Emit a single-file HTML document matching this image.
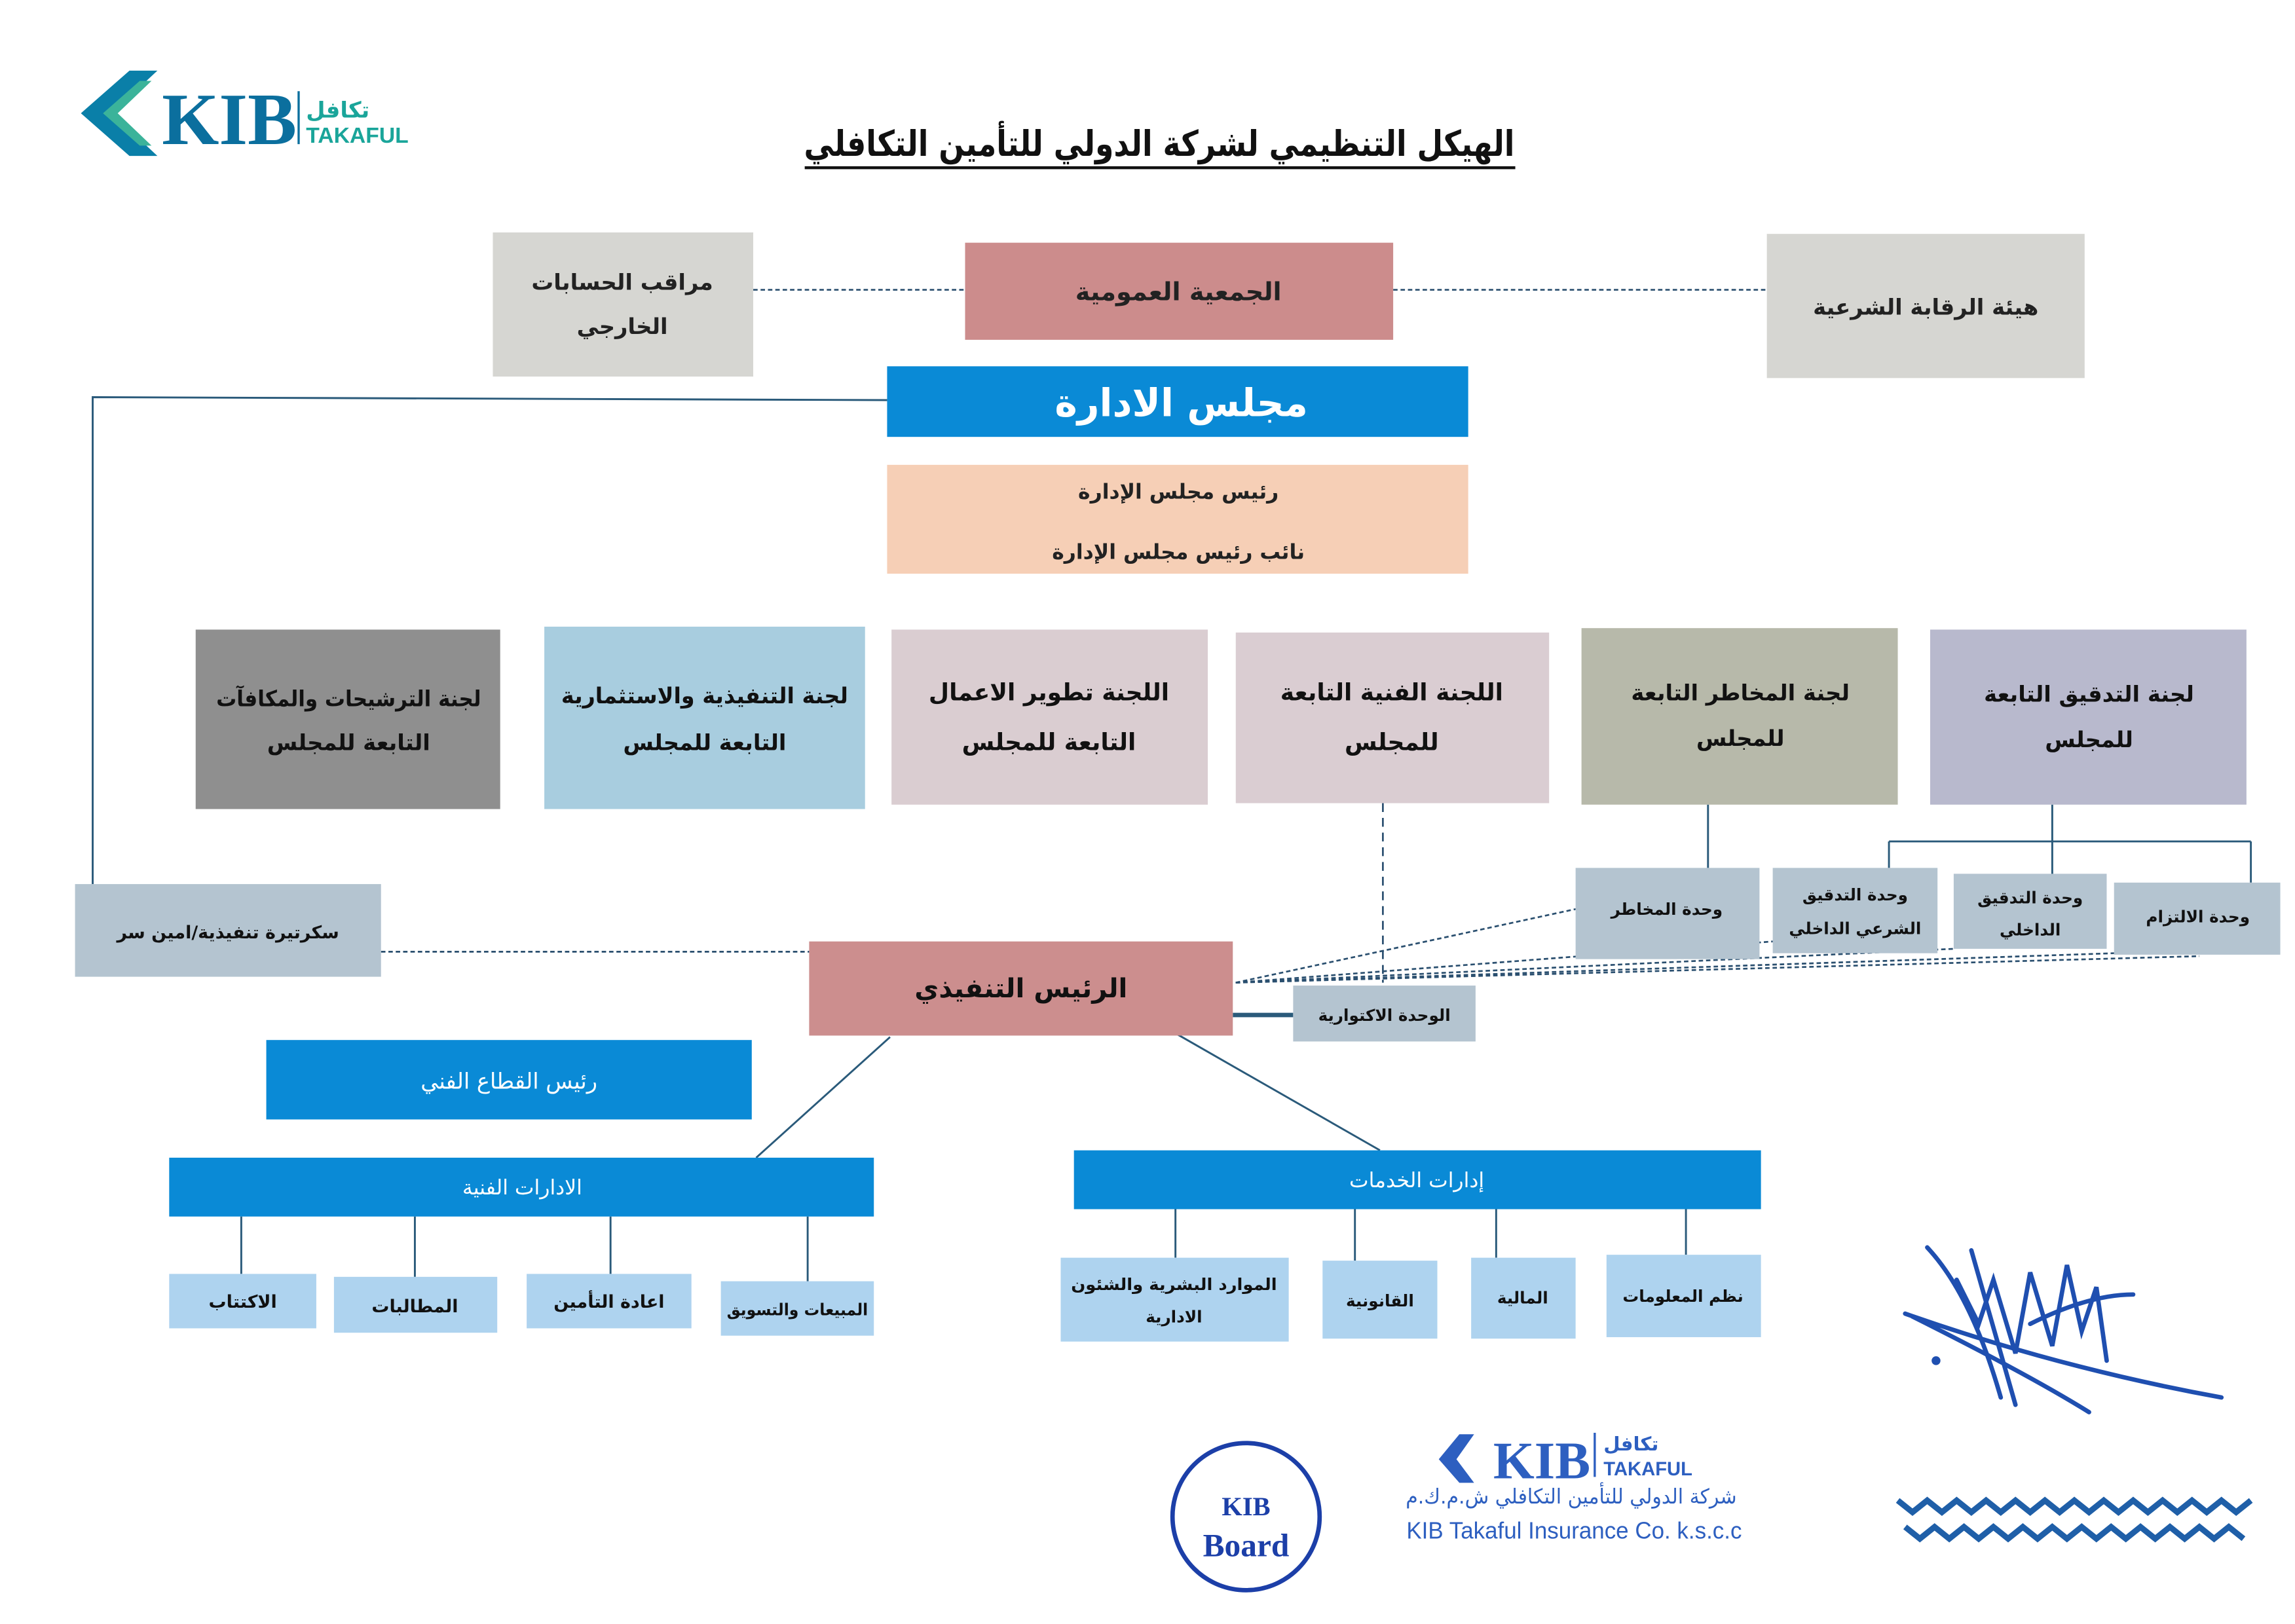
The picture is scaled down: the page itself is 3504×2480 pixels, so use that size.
<!DOCTYPE html>
<html><head><meta charset="utf-8"><style>
html,body{margin:0;padding:0;background:#fff;}
svg{display:block;}
text{font-family:"DejaVu Sans","Liberation Sans",sans-serif;font-weight:bold;}
</style></head><body>
<svg width="3504" height="2480" viewBox="0 0 1560 1104" preserveAspectRatio="none" xmlns="http://www.w3.org/2000/svg">
<rect width="1560" height="1104" fill="#fff"/>
<polygon points="55,77 88,48 107,48 76,77 107,106 88,106" fill="#0a7fa8"/>
<polygon points="70,77 95,55 103,55 80,77 103,99 95,99" fill="#3bb39a"/>
<text x="110" y="98" font-size="50" fill="#0b6f9e" style="font-family:'Liberation Serif',serif">KIB</text>
<line x1="203" y1="62" x2="203" y2="98" stroke="#0b6f9e" stroke-width="1.5"/>
<text x="208" y="80" font-size="15" fill="#1aa59a">تكافل</text>
<text x="208" y="97" font-size="15" fill="#1aa59a" style="font-family:'Liberation Sans',sans-serif">TAKAFUL</text>
<text x="788" y="106" font-size="24" text-anchor="middle" fill="#111" textLength="483" lengthAdjust="spacingAndGlyphs">الهيكل التنظيمي لشركة الدولي للتأمين التكافلي</text>
<line x1="547" y1="114" x2="1030" y2="114" stroke="#111" stroke-width="2"/>
<g stroke="#2a4f6f" stroke-width="1.2" stroke-dasharray="3,2" fill="none">
<line x1="512" y1="197" x2="656" y2="197"/><line x1="947" y1="197" x2="1201" y2="197"/>
<line x1="259" y1="647" x2="550" y2="647"/>
<line x1="940" y1="546" x2="940" y2="668" stroke-dasharray="6,4"/>
<line x1="840" y1="668" x2="1071" y2="618"/>
<line x1="840" y1="668" x2="1205" y2="640"/>
<line x1="840" y1="668" x2="1328" y2="645"/>
<line x1="840" y1="668" x2="1437" y2="648"/>
<line x1="840" y1="668" x2="1495" y2="650"/>
</g>
<g stroke="#2a5a7a" stroke-width="1.3" fill="none">
<polyline points="603,272 63,270 63,601"/>
<line x1="1161" y1="547" x2="1161" y2="590"/>
<line x1="1395" y1="547" x2="1395" y2="600"/>
<line x1="1284" y1="572" x2="1530" y2="572"/>
<line x1="1284" y1="572" x2="1284" y2="590"/><line x1="1530" y1="572" x2="1530" y2="600"/>
<line x1="838" y1="690" x2="879" y2="690" stroke-width="3"/>
<line x1="605" y1="705" x2="514" y2="787"/>
<line x1="800" y1="703" x2="938" y2="782"/>
<line x1="164" y1="827" x2="164" y2="866"/><line x1="282" y1="827" x2="282" y2="868"/>
<line x1="415" y1="827" x2="415" y2="866"/><line x1="549" y1="827" x2="549" y2="871"/>
<line x1="799" y1="822" x2="799" y2="855"/><line x1="921" y1="822" x2="921" y2="857"/>
<line x1="1017" y1="822" x2="1017" y2="855"/><line x1="1146" y1="822" x2="1146" y2="853"/>
</g>
<rect x="335" y="158" width="177" height="98" fill="#d6d6d2"/>
<text x="423" y="197" font-size="15" text-anchor="middle" fill="#222">مراقب الحسابات</text>
<text x="423" y="227" font-size="15" text-anchor="middle" fill="#222">الخارجي</text>
<rect x="656" y="165" width="291" height="66" fill="#cc8c8c"/>
<text x="801" y="204" font-size="17" text-anchor="middle" fill="#222">الجمعية العمومية</text>
<rect x="1201" y="159" width="216" height="98" fill="#d6d6d2"/>
<text x="1309" y="214" font-size="15" text-anchor="middle" fill="#222">هيئة الرقابة الشرعية</text>
<rect x="603" y="249" width="395" height="48" fill="#0a8ad6"/>
<text x="803" y="283" font-size="26" text-anchor="middle" fill="#fff">مجلس الادارة</text>
<rect x="603" y="316" width="395" height="74" fill="#f6cfb6"/>
<text x="801" y="339" font-size="14" text-anchor="middle" fill="#222">رئيس مجلس الإدارة</text>
<text x="801" y="380" font-size="14" text-anchor="middle" fill="#222">نائب رئيس مجلس الإدارة</text>
<rect x="133" y="428" width="207" height="122" fill="#8f8f8f"/>
<text x="237" y="480" font-size="15" text-anchor="middle" fill="#111" textLength="180" lengthAdjust="spacingAndGlyphs">لجنة الترشيحات والمكافآت</text>
<text x="237" y="510" font-size="15" text-anchor="middle" fill="#111">التابعة للمجلس</text>
<rect x="370" y="426" width="218" height="124" fill="#a8cddf"/>
<text x="479" y="478" font-size="15" text-anchor="middle" fill="#111" textLength="195" lengthAdjust="spacingAndGlyphs">لجنة التنفيذية والاستثمارية</text>
<text x="479" y="510" font-size="15" text-anchor="middle" fill="#111">التابعة للمجلس</text>
<rect x="606" y="428" width="215" height="119" fill="#dacdd1"/>
<text x="713" y="476" font-size="16" text-anchor="middle" fill="#111">اللجنة تطوير الاعمال</text>
<text x="713" y="510" font-size="16" text-anchor="middle" fill="#111">التابعة للمجلس</text>
<rect x="840" y="430" width="213" height="116" fill="#dacdd2"/>
<text x="946" y="476" font-size="16" text-anchor="middle" fill="#111">اللجنة الفنية التابعة</text>
<text x="946" y="510" font-size="16" text-anchor="middle" fill="#111">للمجلس</text>
<rect x="1075" y="427" width="215" height="120" fill="#b7b9aa"/>
<text x="1183" y="476" font-size="15" text-anchor="middle" fill="#111">لجنة المخاطر التابعة</text>
<text x="1183" y="507" font-size="15" text-anchor="middle" fill="#111">للمجلس</text>
<rect x="1312" y="428" width="215" height="119" fill="#b8b9cd"/>
<text x="1420" y="477" font-size="15" text-anchor="middle" fill="#111">لجنة التدقيق التابعة</text>
<text x="1420" y="508" font-size="15" text-anchor="middle" fill="#111">للمجلس</text>
<g fill="#b4c4d0">
<rect x="1071" y="590" width="125" height="62"/><rect x="1205" y="590" width="112" height="58"/>
<rect x="1328" y="594" width="104" height="51"/><rect x="1437" y="600" width="113" height="49"/>
<rect x="51" y="601" width="208" height="63"/><rect x="879" y="670" width="124" height="38"/>
</g>
<g font-size="11" text-anchor="middle" fill="#111">
<text x="1133" y="622">وحدة المخاطر</text>
<text x="1261" y="612">وحدة التدقيق</text><text x="1261" y="635">الشرعي الداخلي</text>
<text x="1380" y="614">وحدة التدقيق</text><text x="1380" y="636">الداخلي</text>
<text x="1494" y="627">وحدة الالتزام</text>
<text x="155" y="638" font-size="12">سكرتيرة تنفيذية/امين سر</text>
<text x="941" y="694">الوحدة الاكتوارية</text>
</g>
<rect x="550" y="640" width="288" height="64" fill="#cc8e8e"/>
<text x="694" y="678" font-size="18" text-anchor="middle" fill="#111">الرئيس التنفيذي</text>
<rect x="181" y="707" width="330" height="54" fill="#0a8ad6"/>
<text x="346" y="740" font-size="15" text-anchor="middle" fill="#fff" style="font-weight:normal">رئيس القطاع الفني</text>
<rect x="115" y="787" width="479" height="40" fill="#0a8ad6"/>
<text x="355" y="812" font-size="14" text-anchor="middle" fill="#fff" style="font-weight:normal">الادارات الفنية</text>
<rect x="730" y="782" width="467" height="40" fill="#0a8ad6"/>
<text x="963" y="807" font-size="14" text-anchor="middle" fill="#fff" style="font-weight:normal">إدارات الخدمات</text>
<g fill="#aed3ef">
<rect x="115" y="866" width="100" height="37"/><rect x="227" y="868" width="111" height="38"/>
<rect x="358" y="866" width="112" height="37"/><rect x="490" y="871" width="104" height="37"/>
<rect x="721" y="855" width="155" height="57"/><rect x="899" y="857" width="78" height="53"/>
<rect x="1000" y="855" width="71" height="55"/><rect x="1092" y="853" width="105" height="56"/>
</g>
<g font-size="12" text-anchor="middle" fill="#111">
<text x="165" y="889">الاكتتاب</text><text x="282" y="892">المطالبات</text>
<text x="414" y="889">اعادة التأمين</text><text x="542" y="894" font-size="11" textLength="96" lengthAdjust="spacingAndGlyphs">المبيعات والتسويق</text>
<text x="798" y="877" font-size="11" textLength="140" lengthAdjust="spacingAndGlyphs">الموارد البشرية والشئون</text><text x="798" y="899" font-size="11">الادارية</text>
<text x="938" y="888" font-size="11">القانونية</text><text x="1035" y="886" font-size="11">المالية</text>
<text x="1144" y="885" font-size="11">نظم المعلومات</text>
</g>
<g stroke="#1f4fb0" stroke-width="3" fill="none" stroke-linecap="round">
<path d="M1310,848 Q1340,880 1360,950 M1295,893 Q1400,930 1510,950 M1300,895 Q1380,935 1420,960"/>
<path d="M1330,870 L1345,900 L1355,870 L1370,920 L1380,865 L1395,915 L1405,860 L1415,905 L1425,875 L1432,925"/>
<path d="M1340,850 Q1360,920 1370,955 M1380,900 Q1420,880 1450,880"/>
</g>
<circle cx="1316" cy="925" r="3" fill="#1f4fb0"/>
<circle cx="847" cy="1031" r="50" fill="none" stroke="#1c3fa8" stroke-width="3"/>
<text x="847" y="1030" font-size="18" text-anchor="middle" fill="#1c3fa8" style="font-family:'Liberation Serif',serif">KIB</text>
<text x="847" y="1058" font-size="22" text-anchor="middle" fill="#1c3fa8" style="font-family:'Liberation Serif',serif">Board</text>
<polygon points="978,992 992,975 1002,975 990,992 1002,1008 992,1008" fill="#2d5fc0"/>
<text x="1015" y="1005" font-size="36" fill="#2d5fc0" style="font-family:'Liberation Serif',serif">KIB</text>
<line x1="1084" y1="974" x2="1084" y2="1004" stroke="#2d5fc0" stroke-width="1.5"/>
<text x="1090" y="986" font-size="13" fill="#2d5fc0">تكافل</text>
<text x="1090" y="1003" font-size="13" fill="#2d5fc0" style="font-family:'Liberation Sans',sans-serif">TAKAFUL</text>
<text x="1068" y="1022" font-size="14" text-anchor="middle" fill="#2d5fc0" style="font-weight:normal" textLength="225" lengthAdjust="spacingAndGlyphs">شركة الدولي للتأمين التكافلي ش.م.ك.م</text>
<text x="1070" y="1046" font-size="16" text-anchor="middle" fill="#2d5fc0" style="font-family:'Liberation Sans',sans-serif;font-weight:normal" textLength="228" lengthAdjust="spacingAndGlyphs">KIB Takaful Insurance Co. k.s.c.c</text>
<g stroke="#1f5fa8" stroke-width="4" fill="none">
<path d="M1290,1020 l10,8 l10,-8 l10,8 l10,-8 l10,8 l10,-8 l10,8 l10,-8 l10,8 l10,-8 l10,8 l10,-8 l10,8 l10,-8 l10,8 l10,-8 l10,8 l10,-8 l10,8 l10,-8 l10,8 l10,-8 l10,8 l10,-8"/>
<path d="M1295,1038 l10,8 l10,-8 l10,8 l10,-8 l10,8 l10,-8 l10,8 l10,-8 l10,8 l10,-8 l10,8 l10,-8 l10,8 l10,-8 l10,8 l10,-8 l10,8 l10,-8 l10,8 l10,-8 l10,8 l10,-8 l10,8"/>
</g>
</svg>
</body></html>
